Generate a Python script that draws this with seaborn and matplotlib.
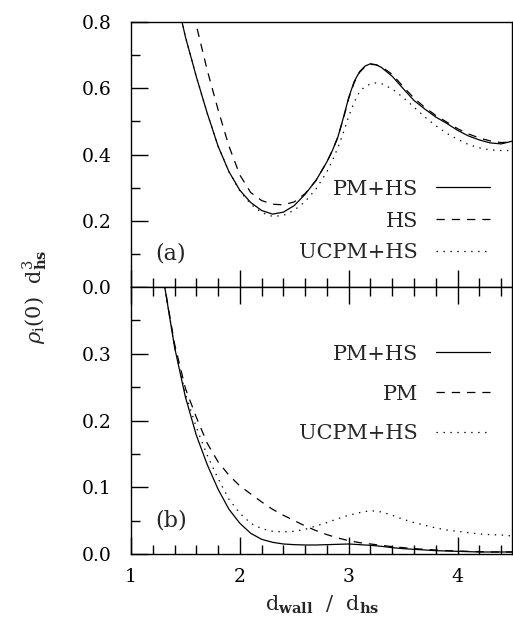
import numpy as np
import pandas as pd
import matplotlib
matplotlib.use("Agg")
import matplotlib.pyplot as plt
from matplotlib.ticker import MultipleLocator, FixedLocator
import seaborn as sns

# ---------------- data ----------------
x_top = [1.3, 1.4, 1.5, 1.6, 1.7, 1.8, 1.9, 2.0, 2.1, 2.2, 2.3, 2.4, 2.5, 2.6, 2.7,
         2.8, 2.85, 2.9, 2.95, 3.0, 3.05, 3.1, 3.15, 3.2, 3.25, 3.3, 3.4, 3.5, 3.6,
         3.7, 3.8, 3.9, 4.0, 4.1, 4.2, 4.3, 4.4, 4.5]
top_pm_hs = [1.10, 0.90, 0.755, 0.635, 0.525, 0.425, 0.348, 0.292, 0.255, 0.231, 0.220,
             0.226, 0.246, 0.280, 0.322, 0.378, 0.412, 0.452, 0.510, 0.572, 0.620,
             0.650, 0.667, 0.674, 0.671, 0.663, 0.636, 0.599, 0.563, 0.537, 0.513,
             0.494, 0.473, 0.456, 0.444, 0.435, 0.432, 0.440]
top_hs = [1.25, 1.10, 0.94, 0.79, 0.655, 0.535, 0.425, 0.338, 0.285, 0.261, 0.250,
          0.248, 0.257, 0.282, 0.322, 0.378, 0.412, 0.452, 0.507, 0.569, 0.617,
          0.648, 0.665, 0.672, 0.671, 0.665, 0.642, 0.605, 0.570, 0.542, 0.518,
          0.498, 0.478, 0.462, 0.450, 0.441, 0.436, 0.438]
top_ucpm_hs = [1.10, 0.90, 0.755, 0.635, 0.525, 0.425, 0.348, 0.290, 0.250, 0.225, 0.213,
               0.216, 0.232, 0.258, 0.296, 0.348, 0.382, 0.420, 0.465, 0.515, 0.558,
               0.590, 0.605, 0.613, 0.616, 0.614, 0.598, 0.572, 0.543, 0.513, 0.487,
               0.464, 0.446, 0.430, 0.420, 0.414, 0.412, 0.412]

x_bot = [1.3, 1.4, 1.5, 1.6, 1.7, 1.8, 1.9, 2.0, 2.1, 2.2, 2.3, 2.4, 2.5, 2.6, 2.7,
         2.8, 2.9, 3.0, 3.1, 3.2, 3.3, 3.4, 3.5, 3.6, 3.7, 3.8, 3.9, 4.0, 4.1, 4.2,
         4.3, 4.4, 4.5]
bot_pm_hs = [0.41, 0.31, 0.235, 0.178, 0.134, 0.097, 0.067, 0.046, 0.031, 0.022, 0.0175,
             0.015, 0.014, 0.0135, 0.0135, 0.014, 0.0145, 0.015, 0.014, 0.013, 0.0115,
             0.0095, 0.008, 0.007, 0.006, 0.005, 0.0045, 0.004, 0.0035, 0.003, 0.003,
             0.003, 0.003]
bot_pm = [0.41, 0.315, 0.248, 0.205, 0.166, 0.138, 0.118, 0.102, 0.090, 0.078, 0.067,
          0.058, 0.050, 0.042, 0.035, 0.029, 0.024, 0.020, 0.017, 0.015, 0.013, 0.011,
          0.0095, 0.008, 0.007, 0.006, 0.005, 0.0045, 0.004, 0.0035, 0.003, 0.003,
          0.003]
bot_ucpm_hs = [0.41, 0.31, 0.24, 0.19, 0.148, 0.113, 0.082, 0.061, 0.046, 0.038, 0.034,
               0.033, 0.034, 0.037, 0.042, 0.047, 0.053, 0.058, 0.062, 0.065, 0.063,
               0.058, 0.052, 0.047, 0.043, 0.039, 0.036, 0.034, 0.032, 0.030, 0.029,
               0.0285, 0.027]

top_labels = ["PM+HS", "HS", "UCPM+HS"]
bot_labels = ["PM+HS", "PM", "UCPM+HS"]

# ---------------- style ----------------
sns.set_theme(style="ticks")
plt.rcParams["font.family"] = ["DejaVu Serif"]
plt.rcParams["mathtext.fontset"] = "dejavuserif"
plt.rcParams["lines.scale_dashes"] = False

W, H = 513, 627
fig = plt.figure(figsize=(W / 100, H / 100), dpi=100)
L, R = 131 / W, 512 / W
y_mid = 1 - 287 / H
y_top = 1 - 22 / H
y_bot = 1 - 554 / H
ax1 = fig.add_axes([L, y_mid, R - L, y_top - y_mid])
ax2 = fig.add_axes([L, y_bot, R - L, y_mid - y_bot])

styles = ["-", (0, (6, 5)), (0, (1, 4))]
lw = 0.9

def draw(ax, x, series, labels):
    for y, lab, ls in zip(series, labels, styles):
        df = pd.DataFrame({"x": x, "y": y})
        sns.lineplot(data=df, x="x", y="y", ax=ax, color="black", lw=lw,
                     linestyle=ls, label=lab, sort=False)

draw(ax1, x_top, [top_pm_hs, top_hs, top_ucpm_hs], top_labels)
draw(ax2, x_bot, [bot_pm_hs, bot_pm, bot_ucpm_hs], bot_labels)

for ax in (ax1, ax2):
    ax.set_xlim(1, 4.5)
    ax.xaxis.set_major_locator(MultipleLocator(1))
    ax.xaxis.set_minor_locator(MultipleLocator(0.2))
    ax.set_xlabel("")
    ax.set_ylabel("")
    for s in ax.spines.values():
        s.set_linewidth(1.0)
        s.set_color("black")
    ax.tick_params(which="both", direction="in", color="black", width=1.0,
                   labelsize=13.5, labelcolor="black", right=False)
    ax.tick_params(which="major", length=12)
    ax.tick_params(which="minor", length=6.5)
    ax.tick_params(axis="y", pad=14)
    ax.tick_params(axis="x", pad=10)

ax1.set_ylim(0, 0.8)
ax1.yaxis.set_major_locator(FixedLocator([0.0, 0.2, 0.4, 0.6, 0.8]))
ax1.yaxis.set_minor_locator(MultipleLocator(0.1))
ax1.tick_params(axis="x", which="both", bottom=True, top=False, labelbottom=False)

ax2.set_ylim(0, 0.4)
ax2.yaxis.set_major_locator(FixedLocator([0.0, 0.1, 0.2, 0.3]))
ax2.yaxis.set_minor_locator(FixedLocator([0.05, 0.15, 0.25, 0.35]))
ax2.tick_params(axis="x", which="both", bottom=True, top=True)
ax2.set_xticks([1, 2, 3, 4])
ax2.set_xticklabels(["1", "2", "3", "4"])

leg_kw = dict(frameon=False, markerfirst=False, loc="center right",
              borderpad=0, borderaxespad=0, handlelength=2.6,
              handletextpad=0.85, fontsize=15)
ax1.legend(bbox_to_anchor=(0.942, 0.249), labelspacing=0.62, **leg_kw)
ax2.legend(bbox_to_anchor=(0.942, 0.599), labelspacing=1.0, **leg_kw)

ax1.text(1.22, 0.1, "(a)", fontsize=16, va="center", ha="left")
ax2.text(1.22, 0.05, "(b)", fontsize=16, va="center", ha="left")

fig.text(0.068, 0.527, r"$\rho_{\rm i}(0)\ \ {\rm d}^{3}_{\mathbf{hs}}$",
         rotation=90, ha="center", va="center", fontsize=15)
fig.text(0.628, 0.035, r"${\rm d}_{\mathbf{wall}}\ \ /\ \ {\rm d}_{\mathbf{hs}}$",
         ha="center", va="center", fontsize=15)

fig.savefig("out.png", dpi=100)
